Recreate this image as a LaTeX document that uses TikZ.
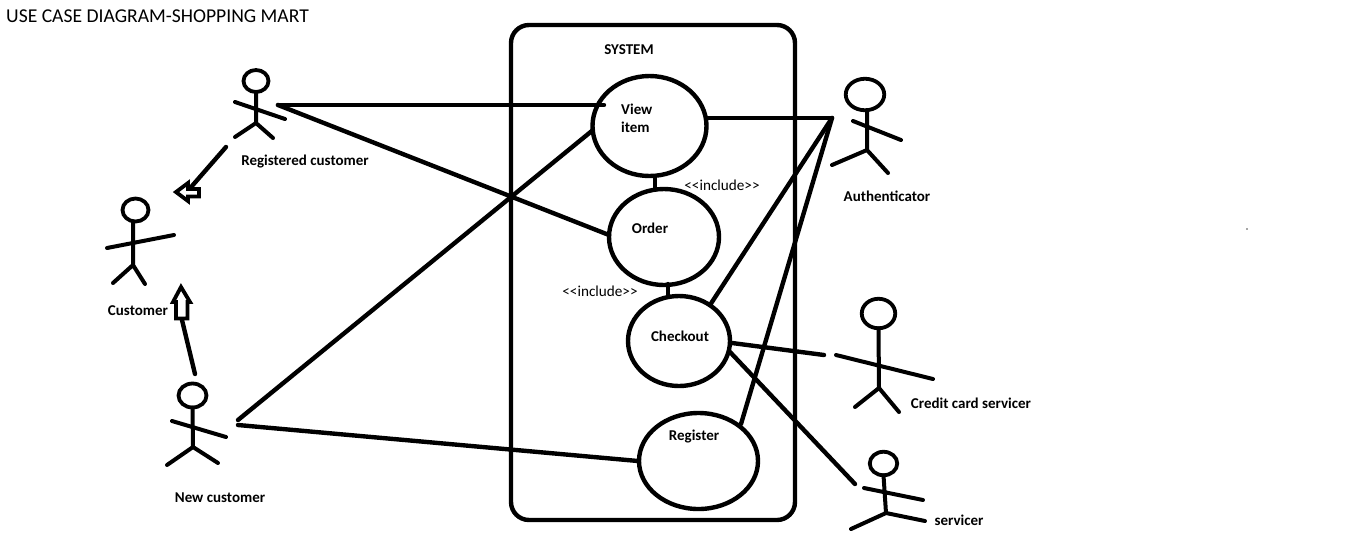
\documentclass[tikz,border=0pt]{standalone}
\usepackage{fontspec}
\setmainfont{Carlito}
\usetikzlibrary{shapes.geometric}
\tikzset{
 ink/.style={draw=black,line width=4.4pt,line cap=round,line join=round},
 limb/.style={draw=black,line width=4pt,line cap=round,line join=round},
 usecase/.style={ellipse,draw=black,line width=4.4pt,fill=none,inner sep=0pt,outer sep=0pt},
 head/.style={ellipse,draw=black,line width=3.8pt,inner sep=0pt,outer sep=0pt},
 lab/.style={font=\fontsize{15}{17}\selectfont\bfseries,inner sep=0pt,text=black},
 plainlab/.style={font=\fontsize{15.2}{17}\selectfont,inner sep=0pt,text=black},
 hollow/.style={draw=black,line width=3.8pt,fill=white,line join=miter},
}
\begin{document}
\begin{tikzpicture}[x=1pt,y=-1pt]
\useasboundingbox (0,0) rectangle (1360,550);
\fill[white] (0,0) rectangle (1360,550);
\node[anchor=west,inner sep=0pt,font=\fontsize{19.6}{22}\selectfont] (title) at (6,16.5) {USE CASE DIAGRAM-SHOPPING MART};
\node[lab] (systemlab) at (629,49.5) {SYSTEM};
\node[draw=black,line width=4.4pt,rounded corners=18pt,minimum width=284pt,minimum height=495pt,inner sep=0pt] (system) at (653,272.5) {};
% use cases
\node[usecase,minimum width=114pt,minimum height=100pt] (view) at (649.5,126) {};
\node[usecase,minimum width=110pt,minimum height=96pt] (order) at (664,237) {};
\node[usecase,minimum width=102pt,minimum height=90pt] (checkout) at (679,341) {};
\node[usecase,minimum width=119pt,minimum height=96pt] (register) at (698.5,461) {};
\node[lab,anchor=west] (viewa) at (621,109.5) {View};
\node[lab,anchor=west] (viewb) at (621,127.5) {item};
\node[lab] (orderlab) at (650,228.5) {Order};
\node[lab] (checkoutlab) at (680,336.5) {Checkout};
\node[lab] (registerlab) at (694,436.5) {Register};
\node[plainlab] (inca) at (722,185.5) {<{}<include>{}>};
\node[plainlab] (incb) at (600,291.5) {<{}<include>{}>};
\draw[ink] (655,177) -- (655,189);
\draw[ink] (668,284) -- (668,296);
% registered customer
\node[head,minimum width=25pt,minimum height=22pt] (rc) at (256,81) {};
\coordinate (rchip) at (256,123);
\coordinate (rca) at (235,102);\coordinate (rcb) at (285,119);
\coordinate (rcl) at (235,137);\coordinate (rcr) at (273,138);
\draw[limb] (rc.south) -- (rchip) (rca) -- (rcb) (rcl) -- (rchip) -- (rcr);
\node[lab] (rclab) at (305,162) {Registered customer};
% customer
\node[head,minimum width=26pt,minimum height=23pt] (cu) at (135.5,210) {};
\coordinate (cuneck) at (133,222);
\coordinate (cuhip) at (133,265);
\coordinate (cua) at (107,248);\coordinate (cub) at (174,235);
\coordinate (cul) at (113,283);\coordinate (cur) at (145,284);
\draw[limb] (cuneck) -- (cuhip) (cua) -- (cub) (cul) -- (cuhip) -- (cur);
\node[lab] (culab) at (138,310.5) {Customer};
% new customer
\node[head,minimum width=28pt,minimum height=24pt] (nc) at (192.5,395.5) {};
\coordinate (nchip) at (193,447);
\coordinate (nca) at (172,421);\coordinate (ncb) at (226,437);
\coordinate (ncl) at (167,465);\coordinate (ncr) at (218,463);
\draw[limb] (nc.south) -- (nchip) (nca) -- (ncb) (ncl) -- (nchip) -- (ncr);
\node[lab] (nclab) at (220,497.5) {New customer};
% authenticator
\node[head,minimum width=38.5pt,minimum height=31.5pt] (au) at (865,94.5) {};
\coordinate (auneck) at (867,110);
\coordinate (auhip) at (867,150);
\coordinate (aua) at (853,121);\coordinate (aub) at (901,140);
\coordinate (aul) at (832,165);\coordinate (aur) at (888,173);
\draw[limb] (auneck) -- (auhip) (aul) -- (auhip) -- (aur) (aua) -- (aub);
\node[lab] (aulab) at (887,196.5) {Authenticator};
% credit card servicer
\node[head,minimum width=33.5pt,minimum height=29.5pt] (cc) at (878.5,313.5) {};
\coordinate (cchip) at (879,388);
\coordinate (cca) at (836,355);\coordinate (ccb) at (933,379);
\coordinate (ccl) at (855,407);\coordinate (ccr) at (899,412);
\draw[limb] (cc.south) -- (cchip) (cca) -- (ccb) (ccl) -- (cchip) -- (ccr);
\node[lab] (cclab) at (971,403.5) {Credit card servicer};
% servicer
\node[head,minimum width=27.5pt,minimum height=23.5pt] (se) at (883.5,463.5) {};
\coordinate (sehip) at (886,513);
\coordinate (sea) at (864,488);\coordinate (seb) at (923,500);
\coordinate (sel) at (851,529);\coordinate (ser) at (925,521);
\draw[limb] (se.south) -- (sehip) (sea) -- (seb) (sel) -- (sehip) -- (ser);
\node[lab] (selab) at (959,520.5) {servicer};
% association end points
\coordinate (rcend) at (278,105);
\coordinate (ncupper) at (238,420);
\coordinate (nclower) at (238,425);
\coordinate (auend) at (832,118);
\coordinate (ccend) at (824,355);
\coordinate (seend) at (855,484);
\coordinate (viewin) at (604,105);
\coordinate (viewsw) at (593,130);
\coordinate (orderw) at (609,235);
\coordinate (registerw) at (638,461);
\coordinate (viewe) at (707,118);
\coordinate (checkoutne) at (710,305);
\coordinate (registerne) at (741,424);
\coordinate (checkoute) at (732,343);
\coordinate (checkoutse) at (730,352);
\draw[ink] (rcend) -- (viewin);
\draw[ink] (rcend) -- (orderw);
\draw[ink] (ncupper) -- (viewsw);
\draw[ink] (nclower) -- (registerw);
\draw[ink] (viewe) -- (auend);
\draw[ink] (checkoutne) -- (auend);
\draw[ink] (registerne) -- (auend);
\draw[ink] (checkoute) -- (ccend);
\draw[ink] (checkoutse) -- (seend);
% generalisations
\coordinate (rcgen) at (226,147);\coordinate (rcgenb) at (192,186);
\coordinate (ncgen) at (195,374);\coordinate (ncgenb) at (182,320);
\draw[ink] (rcgen) -- (rcgenb);
\draw[ink] (ncgen) -- (ncgenb);
\draw[hollow] (176,192) -- (188,183) -- (188,189) -- (199,189) -- (199,196.5) -- (188,196.5) -- (188,201) -- cycle;
\draw[hollow] (181,287) -- (173,302) -- (176,302) -- (176,318.5) -- (187.5,318.5) -- (187.5,302) -- (190,302) -- cycle;
% speck
\fill[black!70] (1247,229) circle (0.8pt);
\end{tikzpicture}
\end{document}
